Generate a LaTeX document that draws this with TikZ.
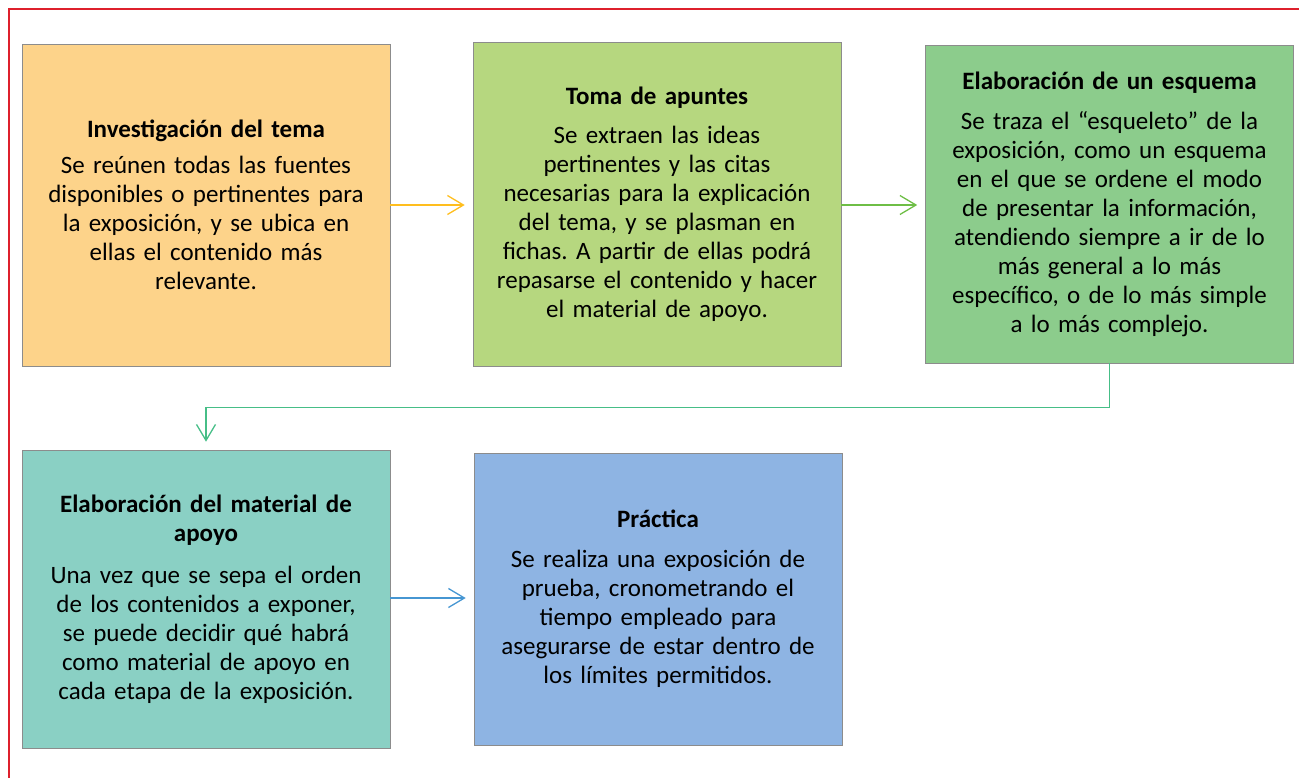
\documentclass[tikz,border=0pt]{standalone}
\usepackage{fontspec}
\setmainfont{Carlito}
\frenchspacing
\usetikzlibrary{arrows.meta, positioning}
\definecolor{cOrange}{RGB}{253,211,138}
\definecolor{cLime}{RGB}{182,215,127}
\definecolor{cGreen}{RGB}{140,204,140}
\definecolor{cTeal}{RGB}{138,208,196}
\definecolor{cBlue}{RGB}{142,180,227}
\definecolor{aOrange}{RGB}{255,190,30}
\definecolor{aGreen}{RGB}{110,190,70}
\definecolor{aTeal}{RGB}{70,190,135}
\definecolor{aBlue}{RGB}{70,150,210}
\definecolor{frameRed}{RGB}{222,32,44}
\begin{document}
\begin{tikzpicture}[x=1pt, y=-1pt,
            bx/.style={draw=black!45, semithick, minimum width=368pt, inner sep=0pt,
                       text width=356pt, align=center, font=\fontsize{25}{29}\selectfont},
            ar/.style={line width=1.5pt, -{Straight Barb[length=16pt, width=19pt, line width=1.3pt]},
                       shorten >=8pt}]
            \useasboundingbox (0,0) rectangle (1299,777);
            \draw[frameRed, line width=2pt] (9,790) -- (9,9) -- (1310,9);
            \node[bx, fill=cOrange, minimum height=322pt] (inv) at (206,205)
                {\textbf{Investigación del tema}\\[7pt]
                 Se reúnen todas las fuentes\\ disponibles o pertinentes para\\
                 la exposición, y se ubica en\\ ellas el contenido más\\ relevante.};
            \node[bx, fill=cLime, minimum height=324pt] (apu) at (657,204)
                {\textbf{Toma de apuntes}\\[10pt]
                 Se extraen las ideas\\ pertinentes y las citas\\ necesarias para la explicación\\
                 del tema, y se plasman en\\ fichas. A partir de ellas podrá\\
                 repasarse el contenido y hacer\\ el material de apoyo.};
            \node[bx, fill=cGreen, minimum height=318pt] (esq) at (1109.5,204)
                {\textbf{Elaboración de un esquema}\\[11pt]
                 Se traza el “esqueleto” de la\\ exposición, como un esquema\\
                 en el que se ordene el modo\\ de presentar la información,\\
                 atendiendo siempre a ir de lo\\ más general a lo más\\
                 específico, o de lo más simple\\ a lo más complejo.};
            \node[bx, fill=cTeal, minimum height=298pt] (mat) at (206,599)
                {\textbf{Elaboración del material de}\\ \textbf{apoyo}\\[13pt]
                 Una vez que se sepa el orden\\ de los contenidos a exponer,\\
                 se puede decidir qué habrá\\ como material de apoyo en\\
                 cada etapa de la exposición.};
            \node[bx, fill=cBlue, minimum height=292pt] (pra) at (658,599)
                {\textbf{Práctica}\\[11pt]
                 Se realiza una exposición de\\ prueba, cronometrando el\\
                 tiempo empleado para\\ asegurarse de estar dentro de\\
                 los límites permitidos.};
            \draw[ar, aOrange] (inv.east |- 0,205) -- (apu.west |- 0,205);
            \draw[ar, aGreen]  (apu.east |- 0,205) -- (esq.west |- 0,205);
            \draw[ar, draw=aTeal, color=aTeal] (esq.south) -- ++(0,44) -| (mat.north);
            \draw[ar, aBlue]   (mat.east |- 0,598) -- (pra.west |- 0,598);
        \end{tikzpicture}
\end{document}
